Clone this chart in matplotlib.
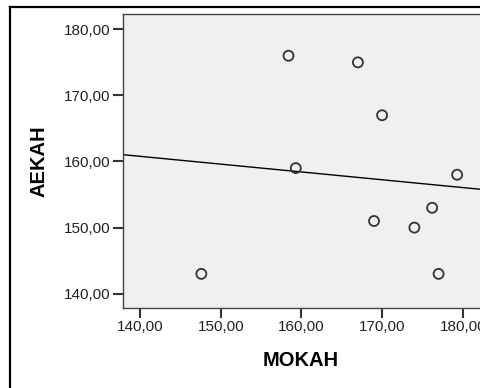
import numpy as np
import matplotlib
matplotlib.use('Agg')
from matplotlib import pyplot as plt
from matplotlib.lines import Line2D

mokah = [158.4, 167.0, 170.0, 159.3, 179.3, 147.6, 176.2, 169.0, 174.0, 177.0]
aekah = [176.0, 175.0, 167.0, 159.0, 158.0, 143.0, 153.0, 151.0, 150.0, 143.0]
x_ticks = [140, 150, 160, 170, 180]
y_ticks = [140, 150, 160, 170, 180]

W, H = 480, 388
plt.rcParams['font.family'] = ['Liberation Sans', 'DejaVu Sans']

fig = plt.figure(figsize=(W / 100, H / 100), dpi=100)

# outer chart frame (left and top edges visible)
fig.add_artist(Line2D([10 / W, 10 / W], [0, 1 - 7 / H], color='black', lw=1.6,
                      transform=fig.transFigure))
fig.add_artist(Line2D([10 / W, 1], [1 - 7 / H, 1 - 7 / H], color='black', lw=1.6,
                      transform=fig.transFigure))

# plot area runs past the right edge of the picture, as in the reference
left_px, right_px, top_px, bottom_px = 122.7, 520, 14, 307.7
ax = fig.add_axes([left_px / W, 1 - bottom_px / H,
                   (right_px - left_px) / W, (bottom_px - top_px) / H])
ax.set_facecolor('#f0f0f0')

px_per_x = 8.07
px_per_y = 6.61
ax.set_xlim(140 - (140 - left_px) / px_per_x, 140 + (right_px - 140) / px_per_x)
ax.set_ylim(140 - (bottom_px - 293.7) / px_per_y, 180 + (29.3 - top_px) / px_per_y)

ax.scatter(mokah, aekah, s=52, facecolors='none', edgecolors='#333333',
           linewidths=1.3, zorder=3)

# linear fit line across the whole plot area
slope, intercept = np.polyfit(mokah, aekah, 1)
xs = np.array(ax.get_xlim())
ax.plot(xs, slope * xs + intercept, color='black', lw=1.0, zorder=2)

ax.set_xticks(x_ticks)
ax.set_yticks(y_ticks)
ax.set_xticklabels([f'{v:.2f}'.replace('.', ',') for v in x_ticks])
ax.set_yticklabels([f'{v:.2f}'.replace('.', ',') for v in y_ticks])
ax.tick_params(axis='both', length=7, width=1.5, color='#333333',
               labelsize=11, labelcolor='#222222', pad=2)

for side in ['left', 'bottom', 'top', 'right']:
    ax.spines[side].set_color('#444444')
    ax.spines[side].set_linewidth(1.0)

fig.text(39 / W, 1 - 161 / H, 'AEKAH', rotation=90, fontsize=14.5,
         fontweight='bold', ha='center', va='center')
fig.text(301 / W, 1 - 360 / H, 'MOKAH', fontsize=14.5,
         fontweight='bold', ha='center', va='center')

fig.savefig('out.png', dpi=100)
